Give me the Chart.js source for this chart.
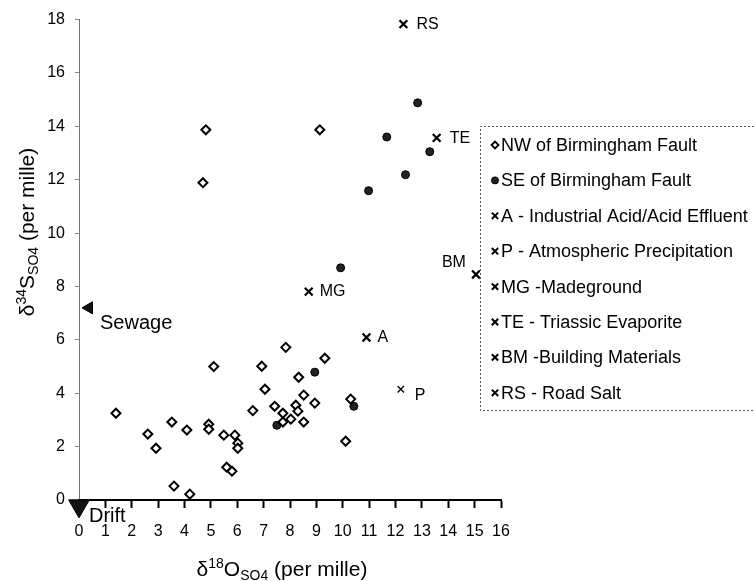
<!DOCTYPE html>
<html>
<head>
<meta charset="utf-8">
<script src="https://cdn.jsdelivr.net/npm/chart.js@4.4.1/dist/chart.umd.min.js"></script>
<style>
  html, body { margin: 0; padding: 0; background: #fff; }
  #wrap { width: 754px; height: 581px; }
</style>
</head>
<body>
<div id="wrap"><canvas id="isoChart"></canvas></div>
<script>
// 전역 옵션
const FONT = "'Liberation Sans', Arial, sans-serif";
Chart.defaults.responsive = true;
Chart.defaults.maintainAspectRatio = false;
Chart.defaults.font.family = FONT;
Chart.defaults.color = '#000';

// 축 범위
const xRange = [0, 16];
const yRange = [0, 18];
const yStep = 2;

// NW of Birmingham Fault (열린 마름모)
const nwX = [4.81, 9.13, 4.70, 1.40, 2.61, 2.92, 3.52, 3.60, 4.09, 4.20, 4.92, 4.92,
  5.11, 5.49, 5.60, 5.80, 5.91, 6.02, 6.02, 6.59, 6.93, 7.05, 7.84, 7.42, 7.73, 7.73,
  8.03, 8.22, 8.30, 8.33, 8.52, 8.52, 8.94, 9.32, 10.30, 10.11];
const nwY = [13.87, 13.87, 11.89, 3.25, 2.47, 1.94, 2.92, 0.52, 2.62, 0.22, 2.84, 2.65,
  5.00, 2.43, 1.23, 1.08, 2.43, 2.13, 1.94, 3.35, 5.01, 4.15, 5.72, 3.51, 3.25, 2.92,
  3.03, 3.55, 3.33, 4.60, 3.93, 2.92, 3.63, 5.31, 3.78, 2.20];

// SE of Birmingham Fault (채운 원)
const seX = [12.84, 11.67, 13.30, 12.38, 10.98, 9.92, 8.94, 10.42, 7.50];
const seY = [14.88, 13.60, 13.05, 12.19, 11.59, 8.70, 4.79, 3.51, 2.80];

// 황산염 기원 (x 표시)
const sourceCodes = ['A', 'P', 'MG', 'TE', 'BM', 'RS'];
const sourceNames = ['A - Industrial Acid/Acid Effluent', 'P - Atmospheric Precipitation',
  'MG -Madeground', 'TE - Triassic Evaporite', 'BM -Building Materials', 'RS - Road Salt'];
const sourceX = [10.90, 12.20, 8.71, 13.56, 15.05, 12.30];
const sourceY = [6.09, 4.15, 7.81, 13.57, 8.45, 17.83];

// 축 위의 삼각형 (Sewage, Drift)
const endNames = ['Sewage', 'Drift'];
const endX = [0.38, 0];
const endY = [7.2, -0.22];

const groupNames = ['NW of Birmingham Fault', 'SE of Birmingham Fault'];

// 라벨 위치 (마커 기준 픽셀 오프셋)
const labelOffset = {
  A: [11, 0], P: [14, 6], MG: [11, 0], TE: [13, 1], BM: [-10, -12], RS: [13, 0],
  Sewage: [11, 16], Drift: [10, 11]
};

const toPoints = (xs, ys) => xs.map((x, i) => ({ x: x, y: ys[i] }));

const datasets = [
  {
    label: groupNames[0],
    data: toPoints(nwX, nwY),
    pointStyle: 'rectRot', pointRadius: 4.5, borderWidth: 2,
    borderColor: '#000', backgroundColor: '#fff'
  },
  {
    label: groupNames[1],
    data: toPoints(seX, seY),
    pointStyle: 'circle', pointRadius: 4, borderWidth: 1,
    borderColor: '#000', backgroundColor: '#222'
  }
];
sourceCodes.forEach((code, i) => {
  datasets.push({
    label: sourceNames[i],
    code: code,
    data: [{ x: sourceX[i], y: sourceY[i] }],
    pointStyle: 'crossRot', pointRadius: code === 'P' ? 4.5 : 5.5,
    borderWidth: code === 'P' ? 1.3 : 2.2,
    borderColor: '#000', backgroundColor: '#000', clip: false
  });
});
endNames.forEach((name, i) => {
  datasets.push({
    label: name,
    code: name,
    data: [{ x: endX[i], y: endY[i] }],
    pointStyle: 'triangle', pointRotation: i === 0 ? -90 : 180,
    pointRadius: i === 0 ? 7 : 12, borderWidth: 1,
    borderColor: '#000', backgroundColor: '#111', clip: false
  });
});

// 축 제목 (위첨자/아래첨자)
function drawRich(ctx, parts, x, y, rotate) {
  ctx.save();
  ctx.translate(x, y);
  if (rotate) ctx.rotate(-Math.PI / 2);
  let total = 0;
  parts.forEach(p => {
    ctx.font = p.size + 'px ' + FONT;
    p.w = ctx.measureText(p.t).width;
    total += p.w;
  });
  let cx = -total / 2;
  ctx.textAlign = 'left';
  ctx.textBaseline = 'alphabetic';
  ctx.fillStyle = '#000';
  parts.forEach(p => {
    ctx.font = p.size + 'px ' + FONT;
    ctx.fillText(p.t, cx, p.dy);
    cx += p.w;
  });
  ctx.restore();
}

const decorPlugin = {
  id: 'decor',
  afterDatasetsDraw(chart) {
    const ctx = chart.ctx;
    const xs = chart.scales.x, ys = chart.scales.y;

    // 기원 라벨
    ctx.save();
    ctx.fillStyle = '#000';
    ctx.textBaseline = 'middle';
    chart.data.datasets.forEach(ds => {
      if (!ds.code) return;
      const px = xs.getPixelForValue(ds.data[0].x);
      const py = ys.getPixelForValue(ds.data[0].y);
      const off = labelOffset[ds.code];
      const big = ds.code === 'Sewage' || ds.code === 'Drift';
      ctx.font = (big ? 20 : 16) + 'px ' + FONT;
      ctx.textAlign = off[0] < 0 ? 'right' : 'left';
      ctx.fillText(ds.code, px + off[0], py + off[1]);
    });
    ctx.restore();

    // 범례 상자
    const box = { left: 480, top: 126, bottom: 410, first: 19, gap: 35.4 };
    ctx.save();
    ctx.fillStyle = '#fff';
    ctx.fillRect(box.left, box.top, chart.width - box.left + 2, box.bottom - box.top);
    ctx.strokeStyle = '#555';
    ctx.lineWidth = 1;
    ctx.setLineDash([2, 2]);
    ctx.beginPath();
    ctx.moveTo(chart.width, box.top + 0.5);
    ctx.lineTo(box.left + 0.5, box.top + 0.5);
    ctx.lineTo(box.left + 0.5, box.bottom + 0.5);
    ctx.lineTo(chart.width, box.bottom + 0.5);
    ctx.stroke();
    ctx.setLineDash([]);
    ctx.font = '18px ' + FONT;
    ctx.textAlign = 'left';
    ctx.textBaseline = 'middle';
    chart.data.datasets.slice(0, 8).forEach((ds, i) => {
      const y = box.top + box.first + i * box.gap;
      const isCross = ds.pointStyle === 'crossRot';
      const lw = isCross ? 2 : (ds.pointStyle === 'rectRot' ? 1.8 : 1);
      ctx.fillStyle = ds.backgroundColor;
      ctx.strokeStyle = ds.borderColor;
      ctx.lineWidth = lw;
      Chart.helpers.drawPoint(ctx, {
        pointStyle: ds.pointStyle,
        radius: isCross ? 4.5 : 3.5,
        borderWidth: lw,
        rotation: 0
      }, 495, y);
      ctx.fillStyle = '#000';
      ctx.fillText(ds.label, 501, y + 1);
    });
    ctx.restore();

    // 축 제목
    drawRich(ctx, [
      { t: 'δ', size: 21, dy: 0 }, { t: '18', size: 14, dy: -8 },
      { t: 'O', size: 21, dy: 0 }, { t: 'SO4', size: 14, dy: 4 },
      { t: ' (per mille)', size: 21, dy: 0 }
    ], 282, 576, false);
    drawRich(ctx, [
      { t: 'δ', size: 21, dy: 0 }, { t: '34', size: 14, dy: -8 },
      { t: 'S', size: 21, dy: 0 }, { t: 'SO4', size: 14, dy: 4 },
      { t: ' (per mille)', size: 21, dy: 0 }
    ], 34, 232, true);
  }
};

const ctx = document.getElementById('isoChart').getContext('2d');

new Chart(ctx, {
  type: 'scatter',
  data: { datasets: datasets },
  options: {
    animation: false,
    events: [],
    layout: { padding: { top: 18, right: 253, bottom: 0, left: 0 } },
    plugins: { legend: { display: false }, tooltip: { enabled: false } },
    scales: {
      x: {
        type: 'linear', min: xRange[0], max: xRange[1],
        afterFit: s => { s.height = 81; },
        border: { display: true, color: '#000', width: 2 },
        grid: { drawOnChartArea: false, drawTicks: true, tickLength: 8, tickWidth: 2, tickColor: '#000' },
        ticks: { stepSize: 1, autoSkip: false, maxRotation: 0, padding: 14, font: { size: 16 }, color: '#000' }
      },
      y: {
        type: 'linear', min: yRange[0], max: yRange[1],
        afterFit: s => { s.width = 79; },
        border: { display: true, color: '#777', width: 1, dash: [2, 2] },
        grid: { drawOnChartArea: false, drawTicks: true, tickLength: 4, tickColor: '#888' },
        ticks: { stepSize: yStep, padding: 10, font: { size: 16 }, color: '#000' }
      }
    }
  },
  plugins: [decorPlugin]
});
</script>
</body>
</html>
